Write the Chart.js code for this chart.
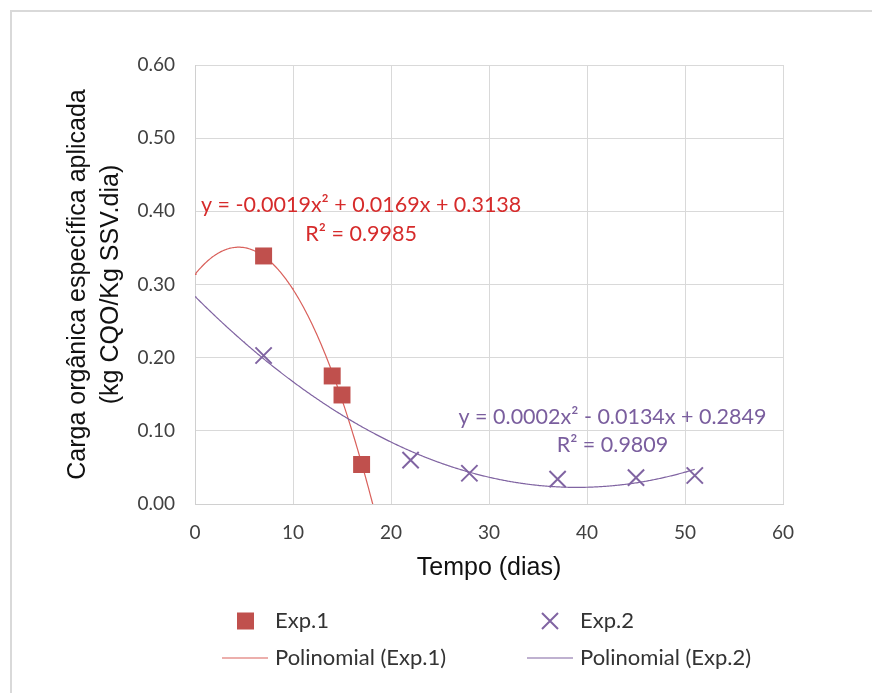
<!DOCTYPE html>
<html lang="pt">
<head>
<meta charset="utf-8">
<title>Carga orgânica específica aplicada</title>
<script src="https://cdn.jsdelivr.net/npm/chart.js@4.4.1/dist/chart.umd.min.js"></script>
<style>
    html, body { margin: 0; padding: 0; background: #fff; overflow: hidden; }
    #grafico { display: block; }
</style>
</head>
<body>
<canvas id="grafico" width="872" height="693"></canvas>
<script>
// Ensaio 1 (quadrados)
const exp1Dias = [7, 14, 15, 17];
const exp1Carga = [0.339, 0.175, 0.149, 0.054];
// Ensaio 2 (cruzes)
const exp2Dias = [7, 22, 28, 37, 45, 51];
const exp2Carga = [0.203, 0.060, 0.042, 0.034, 0.036, 0.039];

// Eixos
const xMin = 0, xMax = 60, xStep = 10;
const yMin = 0, yMax = 0.6, yStep = 0.1;

// Intervalo desenhado de cada linha de tendência (dias)
const trend1Range = [0, 18.5];
const trend2Range = [0, 51];

// Equações mostradas no gráfico
const eq1Text = ['y = -0.0019x\u00B2 + 0.0169x + 0.3138', 'R\u00B2 = 0.9985'];
const eq2Text = ['y = 0.0002x\u00B2 - 0.0134x + 0.2849', 'R\u00B2 = 0.9809'];

const corExp1 = '#C0504D';
const corTrend1 = '#D9605B';
const corEq1 = '#D62B2B';
const corExp2 = '#8064A2';
const corEq2 = '#7A5E9E';
const fonteTexto = 'Lato, "Open Sans", sans-serif';
const fonteTitulo = '"Liberation Sans", Arial, sans-serif';

// Ajuste polinomial de 2º grau por mínimos quadrados -> [c, b, a]
function polyFit2(xs, ys) {
    let n = xs.length, sx = 0, sx2 = 0, sx3 = 0, sx4 = 0, sy = 0, sxy = 0, sx2y = 0;
    for (let i = 0; i < n; i++) {
        const x = xs[i], y = ys[i];
        sx += x; sx2 += x * x; sx3 += x * x * x; sx4 += x * x * x * x;
        sy += y; sxy += x * y; sx2y += x * x * y;
    }
    const m = [
        [n, sx, sx2, sy],
        [sx, sx2, sx3, sxy],
        [sx2, sx3, sx4, sx2y]
    ];
    // eliminação de Gauss
    for (let c = 0; c < 3; c++) {
        for (let r = c + 1; r < 3; r++) {
            const f = m[r][c] / m[c][c];
            for (let k = c; k < 4; k++) m[r][k] -= f * m[c][k];
        }
    }
    const s = [0, 0, 0];
    for (let r = 2; r >= 0; r--) {
        let v = m[r][3];
        for (let k = r + 1; k < 3; k++) v -= m[r][k] * s[k];
        s[r] = v / m[r][r];
    }
    return s;
}

// Pontos da curva de tendência ao longo do intervalo pedido
function trendPoints(xs, ys, range) {
    const [c, b, a] = polyFit2(xs, ys);
    const pts = [];
    for (let x = range[0]; x <= range[1] + 1e-9; x += 0.1) {
        pts.push({ x: x, y: a * x * x + b * x + c });
    }
    return pts;
}

function toPoints(xs, ys) {
    return xs.map((x, i) => ({ x: x, y: ys[i] }));
}

// Equações das tendências, ancoradas em coordenadas dos eixos
const eqLabels = [
    { lines: eq1Text, x: 16.95, y: [0.408, 0.369], color: corEq1 },
    { lines: eq2Text, x: 42.6, y: [0.119, 0.080], color: corEq2 }
];

// Moldura da área do gráfico (só topo e esquerda ficam visíveis)
const framePlugin = {
    id: 'framePlugin',
    beforeDraw(chart) {
        const ctx = chart.ctx;
        ctx.save();
        ctx.strokeStyle = '#d9d9d9';
        ctx.lineWidth = 2;
        ctx.beginPath();
        ctx.moveTo(11, chart.height);
        ctx.lineTo(11, 11);
        ctx.lineTo(chart.width, 11);
        ctx.stroke();
        ctx.restore();
    }
};

const equationPlugin = {
    id: 'equationPlugin',
    afterDatasetsDraw(chart) {
        const ctx = chart.ctx;
        const xs = chart.scales.x, ys = chart.scales.y;
        ctx.save();
        ctx.font = '21.5px ' + fonteTexto;
        ctx.textAlign = 'center';
        ctx.textBaseline = 'middle';
        eqLabels.forEach(lb => {
            ctx.fillStyle = lb.color;
            lb.lines.forEach((t, i) => {
                ctx.fillText(t, xs.getPixelForValue(lb.x), ys.getPixelForValue(lb.y[i]));
            });
        });
        ctx.restore();
    }
};

// Legenda em duas colunas por baixo do eixo X
const legendPlugin = {
    id: 'legendPlugin',
    afterDraw(chart) {
        const ctx = chart.ctx;
        const base = chart.chartArea.bottom;
        const row1 = base + 117, row2 = base + 154;
        ctx.save();
        ctx.font = '22px ' + fonteTexto;
        ctx.textAlign = 'left';
        ctx.textBaseline = 'middle';

        // Exp.1 - quadrado
        ctx.fillStyle = corExp1;
        ctx.fillRect(237, row1 - 8.5, 17, 17);
        ctx.fillStyle = '#333333';
        ctx.fillText('Exp.1', 275, row1);

        // Exp.2 - cruz
        ctx.strokeStyle = corExp2;
        ctx.lineWidth = 2;
        ctx.beginPath();
        ctx.moveTo(542, row1 - 8); ctx.lineTo(558, row1 + 8);
        ctx.moveTo(558, row1 - 8); ctx.lineTo(542, row1 + 8);
        ctx.stroke();
        ctx.fillText('Exp.2', 580, row1);

        // Tendências
        ctx.lineWidth = 1.2;
        ctx.strokeStyle = corTrend1;
        ctx.beginPath(); ctx.moveTo(222, row2); ctx.lineTo(268, row2); ctx.stroke();
        ctx.fillText('Polinomial (Exp.1)', 275, row2);
        ctx.strokeStyle = corExp2;
        ctx.beginPath(); ctx.moveTo(527, row2); ctx.lineTo(573, row2); ctx.stroke();
        ctx.fillText('Polinomial (Exp.2)', 580, row2);
        ctx.restore();
    }
};

const ctx = document.getElementById('grafico').getContext('2d');
const grafico = new Chart(ctx, {
    type: 'scatter',
    data: {
        datasets: [
            {
                label: 'Polinomial (Exp.1)',
                data: trendPoints(exp1Dias, exp1Carga, trend1Range),
                showLine: true,
                borderColor: corTrend1,
                borderWidth: 1.2,
                pointRadius: 0,
                tension: 0,
                order: 3
            },
            {
                label: 'Polinomial (Exp.2)',
                data: trendPoints(exp2Dias, exp2Carga, trend2Range),
                showLine: true,
                borderColor: corExp2,
                borderWidth: 1.2,
                pointRadius: 0,
                tension: 0,
                order: 2
            },
            {
                label: 'Exp.1',
                data: toPoints(exp1Dias, exp1Carga),
                pointStyle: 'rect',
                pointRadius: 12,
                backgroundColor: corExp1,
                borderColor: corExp1,
                borderWidth: 0,
                order: 1
            },
            {
                label: 'Exp.2',
                data: toPoints(exp2Dias, exp2Carga),
                pointStyle: 'crossRot',
                pointRadius: 11.5,
                borderColor: corExp2,
                borderWidth: 2,
                order: 0
            }
        ]
    },
    options: {
        responsive: false,
        animation: false,
        devicePixelRatio: 1,
        layout: {
            padding: { left: 0, top: 65, right: 89, bottom: 109 }
        },
        plugins: {
            legend: { display: false },
            tooltip: { enabled: false }
        },
        scales: {
            x: {
                type: 'linear',
                min: xMin,
                max: xMax,
                afterFit: (scale) => { scale.height = 80; },
                ticks: {
                    stepSize: xStep,
                    padding: 17,
                    color: '#404040',
                    font: { family: fonteTexto, size: 19 }
                },
                grid: { color: '#d9d9d9', drawTicks: false },
                border: { color: '#d0d0d0' },
                title: {
                    display: true,
                    text: 'Tempo (dias)',
                    color: '#111111',
                    font: { family: fonteTitulo, size: 25, lineHeight: 1.2 },
                    padding: { top: 0, bottom: 1 }
                }
            },
            y: {
                type: 'linear',
                min: yMin,
                max: yMax,
                afterFit: (scale) => { scale.width = 195; },
                ticks: {
                    stepSize: yStep,
                    padding: 20,
                    color: '#404040',
                    font: { family: fonteTexto, size: 19 },
                    callback: (v) => v.toFixed(2)
                },
                grid: { color: '#d9d9d9', drawTicks: false },
                border: { color: '#d0d0d0' },
                title: {
                    display: true,
                    text: ['Carga orgânica específica aplicada', '(kg CQO/Kg SSV.dia)'],
                    color: '#111111',
                    font: { family: fonteTitulo, size: 25, lineHeight: 1.32 },
                    padding: { top: 62, bottom: 0 }
                }
            }
        }
    },
    plugins: [framePlugin, equationPlugin, legendPlugin]
});
</script>
</body>
</html>
